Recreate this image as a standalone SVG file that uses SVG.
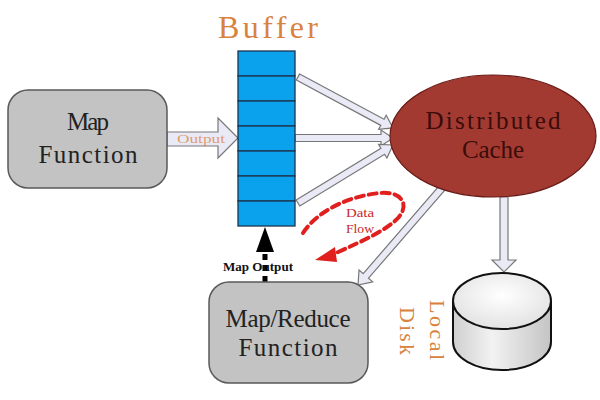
<svg xmlns="http://www.w3.org/2000/svg" width="600" height="400" viewBox="0 0 600 400">
<defs>
<style>
.box{fill:#c3c3c3;stroke:#5a5a5a;stroke-width:1.5}
.lbl{font-family:"Liberation Serif","DejaVu Serif",serif;fill:#222}
.hollow{fill:#eaeaf6;stroke:#777;stroke-width:1.2}
.cell{fill:#0aa2ec;stroke:#1c3550;stroke-width:1.3}
.orange{font-family:"Liberation Serif","DejaVu Serif",serif;fill:#d8823e}
.red{fill:#c8282a;font-family:"Liberation Serif","DejaVu Serif",serif}
</style>
<linearGradient id="body" x1="0" y1="0" x2="1" y2="0">
<stop offset="0" stop-color="#cfcfcf"/>
<stop offset="0.4" stop-color="#f2f2f2"/>
<stop offset="1" stop-color="#c4c4c4"/>
</linearGradient>
<radialGradient id="top" cx="0.5" cy="0.4" r="0.6">
<stop offset="0" stop-color="#ffffff"/>
<stop offset="1" stop-color="#e2e2e2"/>
</radialGradient>
</defs>
<rect width="600" height="400" fill="#ffffff"/>

<g id="connectors">
<g id="output-arrow">
<path class="hollow" d="M167,132 L218,132 L218,118 L238,138 L218,158 L218,146 L167,146 Z"/>
<text x="201" y="143" text-anchor="middle" font-size="12" class="orange" fill-opacity="0.75" textLength="48" lengthAdjust="spacingAndGlyphs">Output</text>
</g>
<path class="hollow" transform="translate(298,77) rotate(28.2)" d="M0,-3.5 L95.8,-3.5 L95.8,-8 L107.8,0 L95.8,8 L95.8,3.5 L0,3.5 Z"/>
<path class="hollow" transform="translate(295,138)" d="M0,-3.5 L86,-3.5 L86,-8 L98,0 L86,8 L86,3.5 L0,3.5 Z"/>
<path class="hollow" transform="translate(298,203) rotate(-31.4)" d="M0,-3.5 L99.3,-3.5 L99.3,-8 L111.3,0 L99.3,8 L99.3,3.5 L0,3.5 Z"/>
<path class="hollow" transform="translate(442,188) rotate(130.9)" d="M0,-3.5 L116.3,-3.5 L116.3,-9 L128.3,0 L116.3,9 L116.3,3.5 L0,3.5 Z"/>
<path class="hollow" transform="translate(504,197) rotate(90)" d="M0,-4 L63,-4 L63,-12 L75,0 L63,12 L63,4 L0,4 Z"/>
<g id="map-output">
<line x1="265" y1="254" x2="265" y2="283" stroke="#000" stroke-width="5" stroke-dasharray="6,5"/>
<polygon points="265,227 256,252 274,252" fill="#000"/>
<text x="258" y="271" text-anchor="middle" font-size="12" font-weight="bold" font-family="Liberation Serif, DejaVu Serif, serif" fill="#111" textLength="70" lengthAdjust="spacingAndGlyphs">Map Output</text>
</g>
<g id="data-flow">
<path d="M303,233 C318,210 350,196 380,193 C402,191 410,205 398,218 C388,229 365,240 336,253" fill="none" stroke="#e0201e" stroke-width="4" stroke-dasharray="8,5" stroke-linecap="round"/>
<polygon points="315,260 335,247 337,262" fill="#e0201e"/>
<text class="red" x="360" y="217" text-anchor="middle" font-size="12" textLength="28" lengthAdjust="spacingAndGlyphs">Data</text>
<text class="red" x="360" y="233" text-anchor="middle" font-size="12" textLength="28" lengthAdjust="spacingAndGlyphs">Flow</text>
</g>
</g>

<g id="map-function">
<rect class="box" x="8" y="90" width="159" height="98" rx="20"/>
<text class="lbl" x="88" y="130" text-anchor="middle" font-size="25" textLength="42" lengthAdjust="spacing">Map</text>
<text class="lbl" x="88" y="163" text-anchor="middle" font-size="25" textLength="99" lengthAdjust="spacing">Function</text>
</g>

<g id="buffer">
<text class="orange" x="268" y="38" text-anchor="middle" font-size="32" textLength="100" lengthAdjust="spacing">Buffer</text>
<rect class="cell" x="238" y="51" width="57" height="25"/>
<rect class="cell" x="238" y="76" width="57" height="25"/>
<rect class="cell" x="238" y="101" width="57" height="25"/>
<rect class="cell" x="238" y="126" width="57" height="25"/>
<rect class="cell" x="238" y="151" width="57" height="25"/>
<rect class="cell" x="238" y="176" width="57" height="25"/>
<rect class="cell" x="238" y="201" width="57" height="25"/>
</g>

<g id="distributed-cache">
<ellipse cx="493" cy="136" rx="103" ry="61" fill="#a23a31" stroke="#6a1d18" stroke-width="1.2"/>
<text x="493" y="129" text-anchor="middle" font-size="25" font-family="Liberation Serif, DejaVu Serif, serif" fill="#3a0c0a" textLength="135" lengthAdjust="spacing">Distributed</text>
<text x="493" y="158" text-anchor="middle" font-size="25" font-family="Liberation Serif, DejaVu Serif, serif" fill="#3a0c0a" textLength="62" lengthAdjust="spacing">Cache</text>
</g>

<g id="map-reduce">
<rect class="box" x="209" y="282" width="159" height="101" rx="20"/>
<text class="lbl" x="288" y="327" text-anchor="middle" font-size="25" textLength="125" lengthAdjust="spacing">Map/Reduce</text>
<text class="lbl" x="288" y="356" text-anchor="middle" font-size="25" textLength="99" lengthAdjust="spacing">Function</text>
</g>

<g id="local-disk">
<path d="M453,301 L453,342 A49,28 0 0 0 551,342 L551,301 Z" fill="url(#body)" stroke="#111" stroke-width="2"/>
<ellipse cx="502" cy="301" rx="49" ry="28" fill="url(#top)" stroke="#111" stroke-width="2"/>
<text class="orange" transform="translate(430,300) rotate(90)" font-size="22" textLength="60" lengthAdjust="spacing">Local</text>
<text class="orange" transform="translate(400,307) rotate(90)" font-size="22" textLength="48" lengthAdjust="spacing">Disk</text>
</g>
</svg>
